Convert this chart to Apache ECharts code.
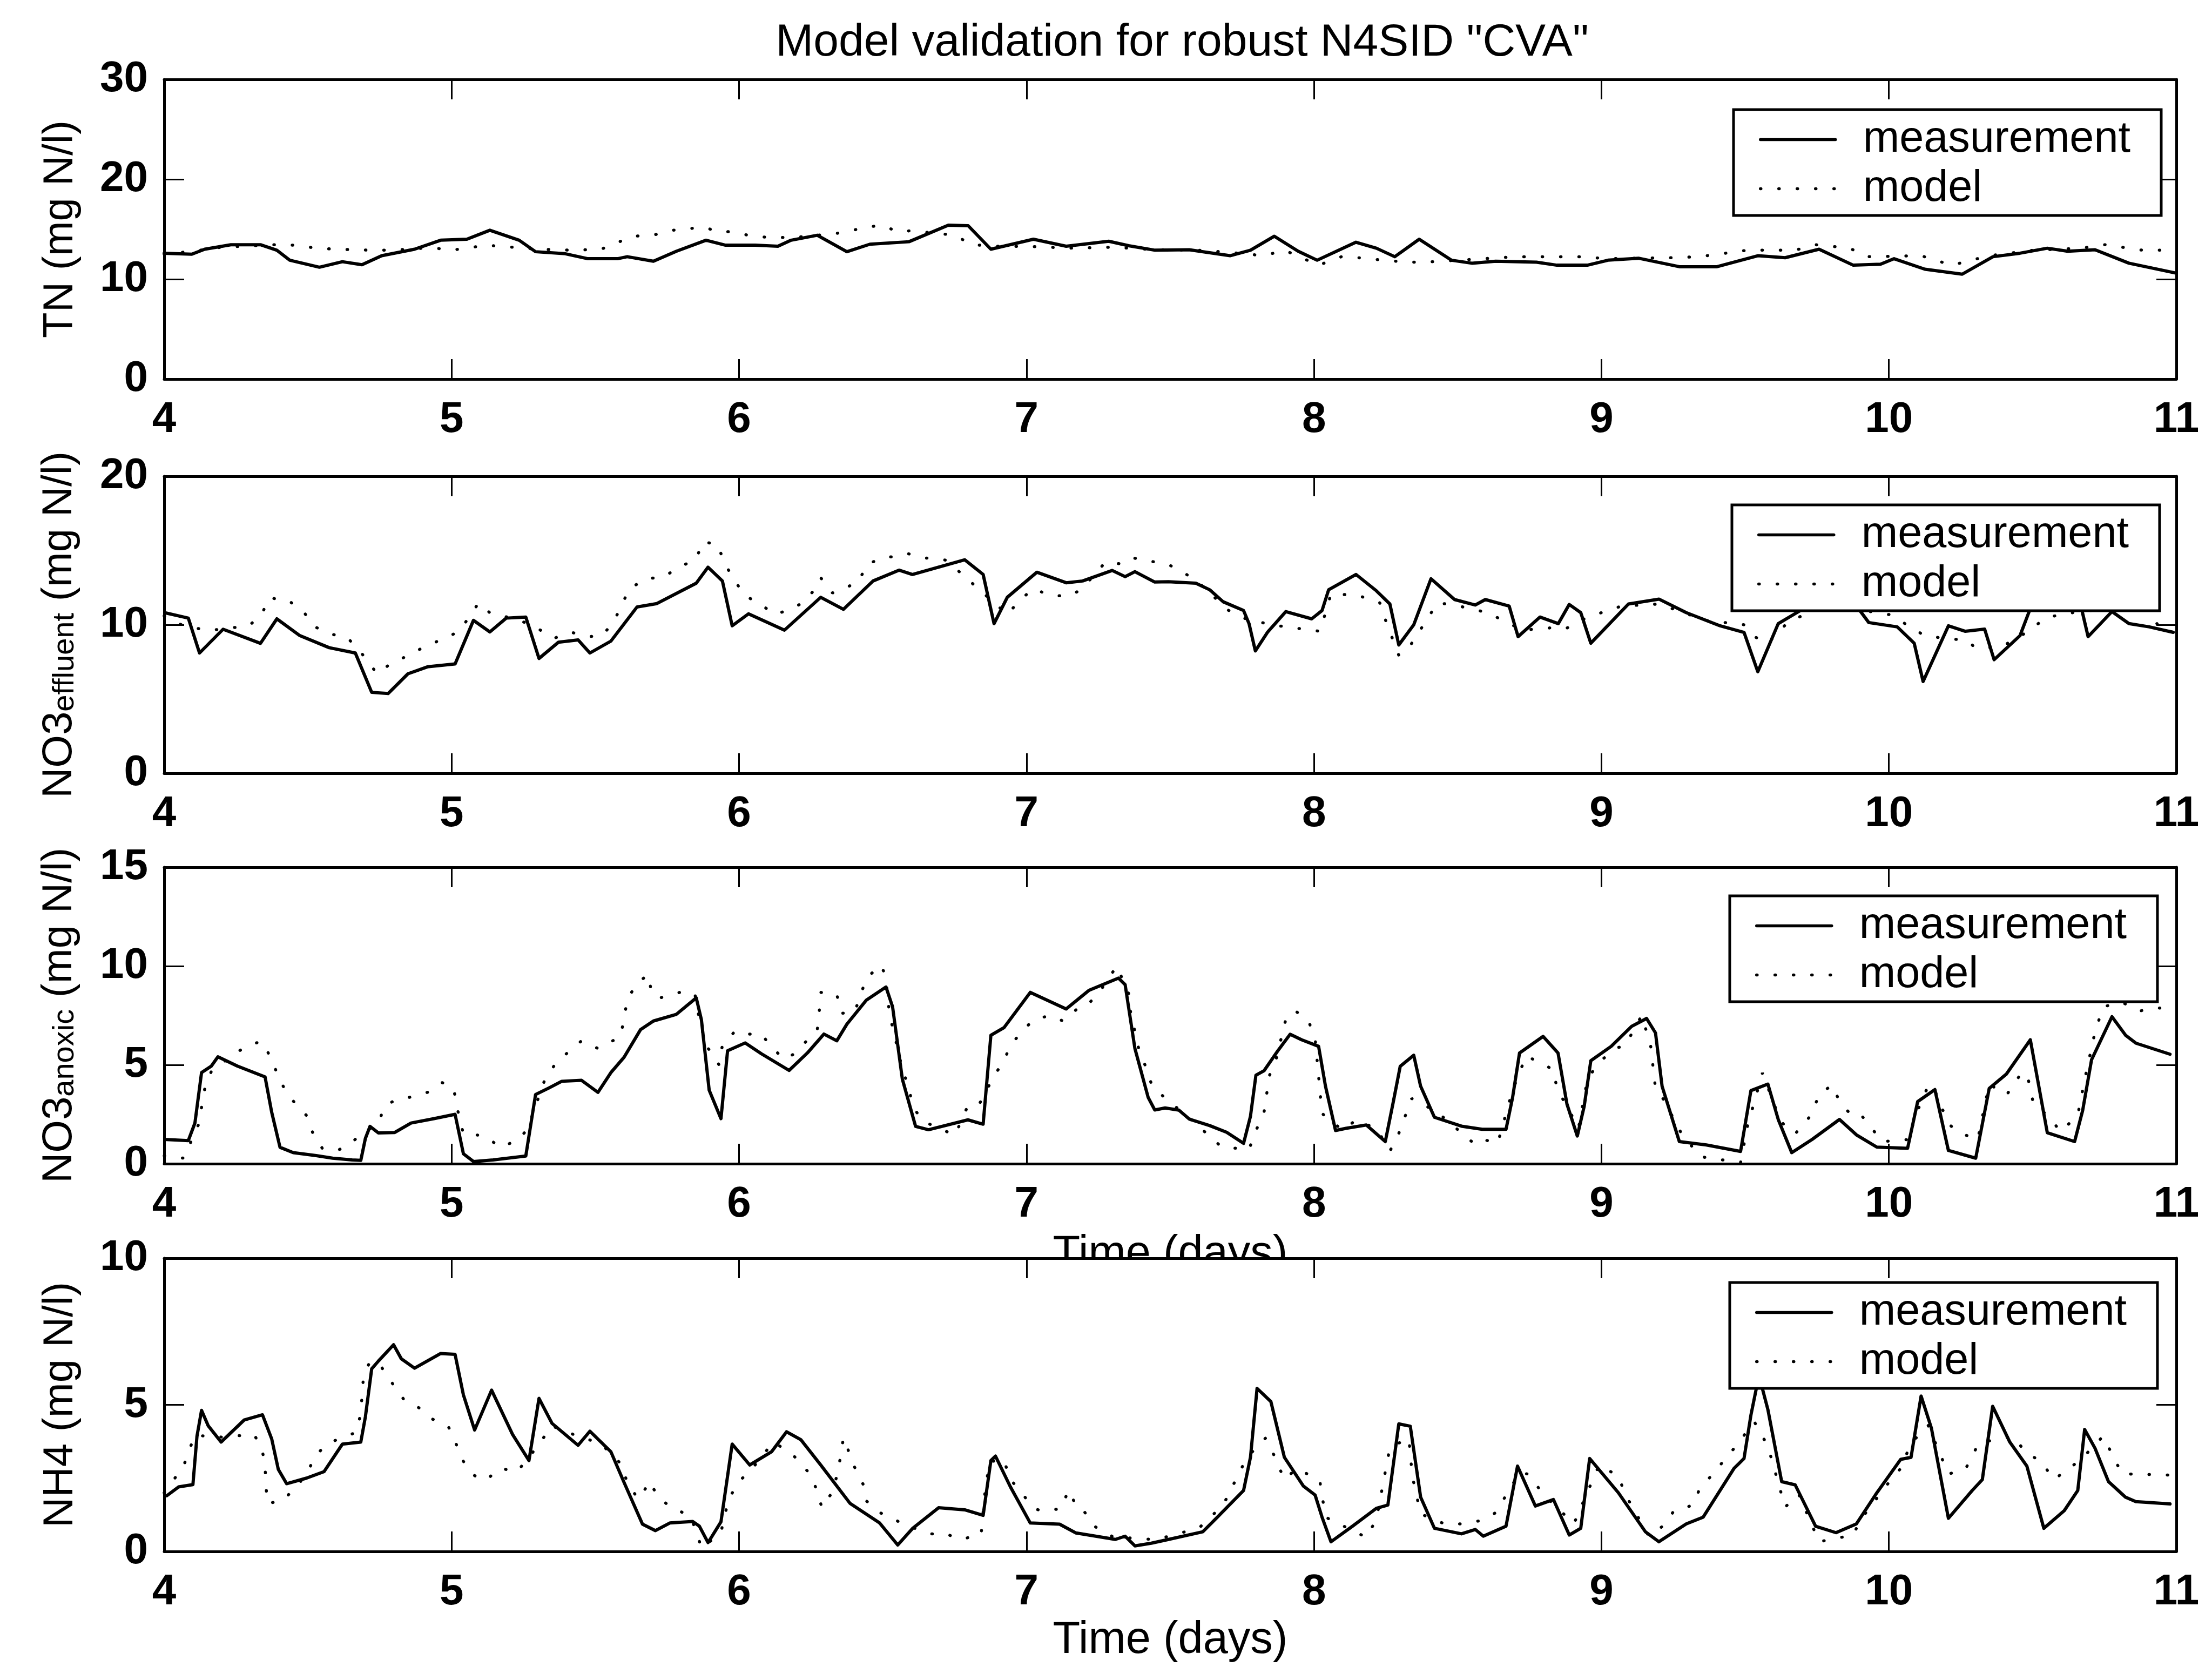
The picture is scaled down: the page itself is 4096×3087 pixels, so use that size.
<!DOCTYPE html>
<html>
<head>
<meta charset="utf-8">
<script src="https://cdn.jsdelivr.net/npm/echarts@6.0.0/dist/echarts.min.js"></script>
<style>
html, body { margin: 0; padding: 0; background: #fff; }
#chart_container { width: 4096px; height: 3087px; }
</style>
</head>
<body>
<div id="chart_container"></div>
<script>
// model validation plot, 4 stacked panels

// ---- data ----
const xTicks    = [4, 5, 6, 7, 8, 9, 10, 11];
const tnTicks   = [0, 10, 20, 30];
const no3eTicks = [0, 10, 20];
const no3aTicks = [0, 5, 10, 15];
const nh4Ticks  = [0, 5, 10];

const titleText   = 'Model validation for robust N4SID "CVA"';
const legendNames = ['measurement', 'model'];
const xName       = 'Time (days)';
const yNames = [
    'TN (mg N/l)',
    '{a|NO3}{b|effluent}{a| (mg N/l)}',
    '{a|NO3}{b|anoxic}{a| (mg N/l)}',
    'NH4 (mg N/l)'
];

// TN
const tnMeas = [[4.0,12.6],[4.096,12.5],[4.141,13.0],[4.232,13.45],[4.335,13.45],[4.392,12.9],[4.437,11.9],[4.54,11.2],[4.62,11.75],[4.688,11.45],[4.757,12.35],[4.871,13.0],[4.962,13.9],[5.053,14.0],[5.133,14.9],[5.235,13.9],[5.292,12.75],[5.395,12.55],[5.474,12.05],[5.577,12.05],[5.611,12.25],[5.702,11.8],[5.782,12.8],[5.885,13.9],[5.953,13.4],[6.056,13.4],[6.135,13.3],[6.181,13.9],[6.272,14.4],[6.375,12.75],[6.455,13.5],[6.591,13.75],[6.728,15.4],[6.797,15.35],[6.876,13.0],[7.024,14.0],[7.138,13.3],[7.286,13.8],[7.355,13.35],[7.447,12.9],[7.566,12.95],[7.708,12.35],[7.779,12.9],[7.862,14.3],[7.945,12.8],[8.011,11.9],[8.146,13.7],[8.217,13.1],[8.281,12.25],[8.366,14.0],[8.478,11.9],[8.549,11.6],[8.632,11.8],[8.774,11.7],[8.845,11.4],[8.951,11.4],[9.023,11.9],[9.129,12.1],[9.271,11.25],[9.402,11.25],[9.544,12.35],[9.639,12.15],[9.757,13.0],[9.876,11.4],[9.971,11.5],[10.018,12.05],[10.125,11.0],[10.255,10.5],[10.362,12.25],[10.456,12.6],[10.551,13.1],[10.622,12.8],[10.717,12.95],[10.835,11.6],[11.0,10.6]];
const tnModel = [[4.0,12.5],[4.1,12.8],[4.2,13.2],[4.38,13.45],[4.46,13.4],[4.53,13.1],[4.6,13.0],[4.66,12.95],[4.72,12.9],[4.79,12.9],[4.93,13.15],[5.0,12.9],[5.05,13.1],[5.12,13.4],[5.19,13.25],[5.3,13.0],[5.42,12.9],[5.52,13.0],[5.58,13.7],[5.63,14.3],[5.7,14.4],[5.77,14.9],[5.84,15.1],[5.88,15.2],[5.92,14.8],[5.97,14.75],[6.04,14.35],[6.11,14.15],[6.2,14.2],[6.36,14.65],[6.44,15.2],[6.5,15.4],[6.55,14.75],[6.6,14.85],[6.75,14.4],[6.81,13.45],[6.9,13.3],[7.06,13.25],[7.13,13.1],[7.3,13.2],[7.45,12.95],[7.6,12.9],[7.7,12.7],[7.826,12.35],[7.897,12.9],[8.016,11.4],[8.1,12.3],[8.205,12.0],[8.324,11.7],[8.383,11.7],[8.5,11.9],[8.703,12.25],[8.94,12.25],[9.011,12.05],[9.247,12.15],[9.342,12.25],[9.508,12.9],[9.674,12.9],[9.745,13.45],[9.864,13.1],[9.923,12.25],[10.112,12.35],[10.219,11.4],[10.349,12.35],[10.503,12.9],[10.669,13.1],[10.752,13.45],[10.882,12.9],[11.0,12.9]];

// NO3 effluent
const no3eMeas = [[4.005,10.8],[4.084,10.45],[4.123,8.1],[4.205,9.7],[4.335,8.75],[4.392,10.4],[4.472,9.27],[4.574,8.46],[4.665,8.1],[4.722,5.45],[4.779,5.37],[4.848,6.7],[4.916,7.17],[5.012,7.36],[5.076,10.3],[5.133,9.52],[5.19,10.45],[5.258,10.52],[5.304,7.73],[5.372,8.83],[5.44,8.98],[5.481,8.1],[5.554,8.9],[5.645,11.2],[5.714,11.43],[5.851,12.8],[5.892,13.88],[5.942,12.95],[5.976,9.93],[6.033,10.74],[6.158,9.64],[6.284,11.85],[6.363,11.04],[6.466,12.95],[6.557,13.68],[6.603,13.39],[6.785,14.38],[6.849,13.39],[6.887,10.08],[6.933,11.85],[7.036,13.54],[7.138,12.83],[7.195,12.95],[7.298,13.66],[7.343,13.24],[7.377,13.58],[7.446,12.88],[7.494,12.9],[7.589,12.8],[7.637,12.36],[7.684,11.55],[7.755,10.96],[7.774,10.08],[7.796,8.24],[7.838,9.49],[7.902,10.89],[7.992,10.4],[8.028,10.96],[8.051,12.36],[8.146,13.39],[8.217,12.29],[8.264,11.4],[8.295,8.64],[8.347,10.0],[8.407,13.1],[8.489,11.7],[8.561,11.33],[8.596,11.7],[8.679,11.26],[8.71,9.2],[8.786,10.52],[8.85,10.08],[8.888,11.37],[8.928,10.82],[8.963,8.76],[9.094,11.4],[9.2,11.73],[9.295,10.82],[9.413,9.93],[9.496,9.49],[9.544,6.84],[9.615,10.08],[9.686,10.89],[9.75,11.6],[9.83,11.4],[9.899,10.96],[9.93,10.15],[10.029,9.86],[10.088,8.76],[10.119,6.18],[10.207,9.93],[10.266,9.56],[10.333,9.71],[10.366,7.65],[10.456,9.27],[10.492,11.1],[10.56,11.9],[10.63,11.6],[10.67,11.1],[10.693,9.2],[10.776,10.89],[10.835,10.08],[10.906,9.86],[10.989,9.49]];
const no3eModel = [[4.0,10.6],[4.046,10.08],[4.15,9.6],[4.294,9.93],[4.34,10.67],[4.362,11.8],[4.426,11.7],[4.483,10.96],[4.517,9.93],[4.579,9.37],[4.636,9.17],[4.69,8.0],[4.741,6.7],[4.791,7.43],[4.852,7.95],[4.912,8.6],[4.969,9.02],[5.026,9.56],[5.064,10.6],[5.094,11.48],[5.137,10.74],[5.2,10.5],[5.28,10.0],[5.354,9.08],[5.417,9.49],[5.474,9.2],[5.525,9.27],[5.566,10.3],[5.593,11.37],[5.618,12.43],[5.68,13.13],[5.732,13.17],[5.794,13.9],[5.851,14.42],[5.873,15.6],[5.926,15.4],[5.949,14.13],[6.017,11.99],[6.067,11.48],[6.124,10.7],[6.181,11.04],[6.227,11.55],[6.268,12.5],[6.284,13.17],[6.325,12.14],[6.416,12.87],[6.443,14.05],[6.507,14.57],[6.534,14.57],[6.587,14.79],[6.648,14.5],[6.721,14.35],[6.853,12.07],[6.933,10.7],[6.979,11.7],[7.024,12.43],[7.081,11.99],[7.145,11.92],[7.19,12.36],[7.275,14.23],[7.336,14.08],[7.371,14.5],[7.434,14.27],[7.494,14.05],[7.546,13.54],[7.62,12.5],[7.696,11.04],[7.755,10.45],[7.85,10.0],[8.021,9.56],[8.059,12.07],[8.15,12.0],[8.229,11.48],[8.253,10.08],[8.295,7.95],[8.328,8.39],[8.43,11.48],[8.489,11.33],[8.603,10.82],[8.726,9.64],[8.821,9.79],[8.873,9.71],[8.95,10.5],[9.07,11.26],[9.2,11.4],[9.361,10.3],[9.496,10.0],[9.532,9.2],[9.579,8.76],[9.65,10.2],[9.78,11.3],[9.9,11.0],[10.006,10.67],[10.124,9.27],[10.207,9.05],[10.266,8.98],[10.302,8.46],[10.385,8.46],[10.456,9.2],[10.55,10.5],[10.681,10.96],[10.788,10.96],[10.894,11.04],[10.953,9.56],[11.0,9.5]];

// NO3 anoxic
const no3aMeas = [[4.009,1.22],[4.084,1.17],[4.107,2.06],[4.13,4.61],[4.164,4.94],[4.187,5.41],[4.255,4.94],[4.351,4.39],[4.374,2.61],[4.403,0.83],[4.449,0.56],[4.529,0.41],[4.586,0.28],[4.654,0.19],[4.684,0.17],[4.7,1.28],[4.716,1.89],[4.745,1.56],[4.802,1.58],[4.859,2.06],[4.939,2.28],[5.012,2.5],[5.041,0.5],[5.076,0.11],[5.144,0.19],[5.258,0.39],[5.292,3.5],[5.338,3.83],[5.383,4.17],[5.452,4.22],[5.509,3.61],[5.554,4.61],[5.6,5.39],[5.657,6.78],[5.702,7.22],[5.782,7.56],[5.851,8.39],[5.869,7.28],[5.896,3.72],[5.937,2.28],[5.96,5.72],[6.021,6.11],[6.078,5.56],[6.174,4.72],[6.238,5.61],[6.295,6.56],[6.34,6.22],[6.375,7.06],[6.443,8.28],[6.511,8.94],[6.534,7.94],[6.568,4.28],[6.614,1.89],[6.659,1.72],[6.796,2.22],[6.849,2.0],[6.876,6.5],[6.922,6.89],[7.013,8.67],[7.138,7.83],[7.218,8.78],[7.32,9.39],[7.343,9.06],[7.377,5.83],[7.423,3.36],[7.446,2.72],[7.482,2.82],[7.53,2.71],[7.566,2.26],[7.637,1.93],[7.696,1.59],[7.755,1.03],[7.779,2.4],[7.798,4.48],[7.826,4.7],[7.874,5.71],[7.917,6.55],[7.957,6.27],[8.016,5.94],[8.04,3.92],[8.075,1.68],[8.111,1.79],[8.182,1.96],[8.248,1.12],[8.276,3.14],[8.3,4.93],[8.347,5.49],[8.371,3.92],[8.419,2.35],[8.513,1.9],[8.585,1.74],[8.668,1.74],[8.691,3.36],[8.715,5.6],[8.797,6.44],[8.849,5.6],[8.88,3.02],[8.916,1.4],[8.94,2.91],[8.963,5.21],[9.034,5.94],[9.105,6.95],[9.157,7.35],[9.188,6.62],[9.211,3.92],[9.271,1.12],[9.365,0.95],[9.484,0.62],[9.52,3.7],[9.579,4.03],[9.615,2.24],[9.662,0.56],[9.733,1.23],[9.828,2.24],[9.887,1.46],[9.958,0.84],[10.065,0.78],[10.1,3.14],[10.16,3.75],[10.207,0.67],[10.302,0.28],[10.349,3.81],[10.409,4.54],[10.492,6.27],[10.551,1.57],[10.646,1.12],[10.674,2.69],[10.705,5.26],[10.776,7.44],[10.824,6.49],[10.859,6.1],[10.978,5.54]];
const no3aModel = [[4.0,0.4],[4.068,0.28],[4.12,2.0],[4.141,3.78],[4.164,4.67],[4.244,5.56],[4.301,6.06],[4.342,6.17],[4.36,5.67],[4.387,4.78],[4.415,3.89],[4.449,3.17],[4.495,2.44],[4.517,1.56],[4.55,0.78],[4.6,0.67],[4.63,0.83],[4.688,1.5],[4.745,2.06],[4.768,2.94],[4.805,3.22],[4.846,3.33],[4.916,3.61],[4.966,4.11],[5.007,3.83],[5.018,2.89],[5.041,1.5],[5.098,1.44],[5.125,1.33],[5.167,0.83],[5.228,1.17],[5.263,1.72],[5.326,4.33],[5.367,5.17],[5.417,5.78],[5.452,6.22],[5.509,5.83],[5.53,6.06],[5.554,6.17],[5.588,6.44],[5.6,7.39],[5.611,8.28],[5.645,9.17],[5.686,9.56],[5.695,8.61],[5.725,8.39],[5.794,8.67],[5.846,8.61],[5.857,7.67],[5.885,5.94],[5.914,5.5],[5.93,5.0],[5.942,6.0],[5.987,6.72],[6.021,6.56],[6.078,6.56],[6.113,5.89],[6.158,5.28],[6.192,5.56],[6.272,6.78],[6.279,7.72],[6.284,8.67],[6.34,8.56],[6.356,7.61],[6.402,7.67],[6.443,9.39],[6.493,10.06],[6.51,9.5],[6.523,7.56],[6.539,6.61],[6.568,4.78],[6.591,3.83],[6.603,2.94],[6.637,2.17],[6.751,1.44],[6.796,2.94],[6.835,3.0],[6.887,4.44],[6.922,5.22],[6.944,6.0],[6.99,6.78],[7.024,7.28],[7.081,7.5],[7.127,7.22],[7.172,7.78],[7.195,7.83],[7.245,8.5],[7.314,10.0],[7.355,8.61],[7.362,7.67],[7.389,5.89],[7.412,5.0],[7.434,4.06],[7.47,3.48],[7.589,2.02],[7.679,0.84],[7.774,0.73],[7.8,1.74],[7.826,2.58],[7.835,3.48],[7.844,4.42],[7.87,5.38],[7.902,7.31],[7.933,7.75],[7.98,7.26],[8.004,6.33],[8.016,4.42],[8.028,2.54],[8.099,1.7],[8.146,2.2],[8.217,1.79],[8.264,0.64],[8.29,1.34],[8.34,3.3],[8.427,2.63],[8.556,1.03],[8.58,1.26],[8.639,1.03],[8.691,3.72],[8.738,5.46],[8.833,4.76],[8.845,3.81],[8.892,2.58],[8.92,1.79],[8.951,4.25],[8.991,5.15],[9.058,5.88],[9.081,5.94],[9.14,7.5],[9.171,5.99],[9.188,3.81],[9.219,3.19],[9.271,1.7],[9.342,0.36],[9.484,0.06],[9.508,1.9],[9.56,4.59],[9.615,2.46],[9.639,1.85],[9.674,1.51],[9.733,2.52],[9.757,3.53],[9.804,3.98],[9.828,3.14],[9.876,2.35],[9.907,2.4],[9.977,1.12],[10.072,1.23],[10.088,2.29],[10.136,3.92],[10.152,3.98],[10.207,2.02],[10.243,1.57],[10.309,1.23],[10.349,4.03],[10.409,3.47],[10.456,4.48],[10.48,4.59],[10.503,3.02],[10.551,2.46],[10.598,1.62],[10.657,2.46],[10.681,4.25],[10.716,6.6],[10.745,7.94],[10.811,8.17],[10.87,7.72],[10.929,7.89],[11.0,7.8]];

// NH4
const nh4Meas = [[4.009,1.9],[4.05,2.2],[4.1,2.28],[4.114,3.92],[4.13,4.81],[4.153,4.29],[4.198,3.73],[4.278,4.48],[4.342,4.66],[4.374,3.84],[4.397,2.8],[4.426,2.31],[4.495,2.5],[4.556,2.72],[4.62,3.66],[4.684,3.73],[4.7,4.59],[4.722,6.23],[4.745,6.49],[4.798,7.05],[4.825,6.57],[4.871,6.25],[4.962,6.75],[5.012,6.72],[5.041,5.34],[5.08,4.14],[5.139,5.5],[5.212,3.99],[5.269,3.1],[5.304,5.22],[5.349,4.37],[5.44,3.62],[5.481,4.1],[5.554,3.4],[5.6,2.35],[5.664,0.93],[5.709,0.71],[5.759,0.97],[5.839,1.02],[5.862,0.86],[5.892,0.3],[5.937,1.01],[5.976,3.66],[6.037,2.95],[6.113,3.4],[6.165,4.08],[6.215,3.81],[6.284,2.95],[6.386,1.64],[6.489,0.97],[6.552,0.22],[6.603,0.78],[6.694,1.49],[6.785,1.42],[6.849,1.23],[6.876,3.1],[6.892,3.25],[6.944,2.2],[7.013,0.97],[7.115,0.93],[7.172,0.63],[7.309,0.41],[7.343,0.52],[7.377,0.19],[7.434,0.28],[7.494,0.41],[7.613,0.67],[7.66,1.13],[7.755,2.08],[7.779,3.21],[7.802,5.56],[7.85,5.11],[7.897,3.21],[7.963,2.23],[8.004,1.92],[8.028,1.17],[8.059,0.33],[8.134,0.86],[8.217,1.47],[8.257,1.58],[8.295,4.35],[8.335,4.27],[8.371,1.85],[8.419,0.79],[8.513,0.6],[8.561,0.75],[8.589,0.52],[8.668,0.86],[8.708,2.91],[8.77,1.55],[8.833,1.77],[8.888,0.56],[8.928,0.79],[8.959,3.17],[9.059,2.0],[9.153,0.67],[9.2,0.33],[9.295,0.94],[9.354,1.17],[9.461,2.83],[9.496,3.17],[9.52,4.65],[9.548,6.0],[9.579,4.84],[9.627,2.38],[9.674,2.27],[9.745,0.86],[9.816,0.64],[9.887,0.94],[9.958,2.0],[10.041,3.14],[10.077,3.21],[10.112,5.3],[10.148,4.2],[10.207,1.13],[10.29,2.08],[10.325,2.45],[10.361,4.95],[10.42,3.74],[10.48,2.91],[10.539,0.79],[10.61,1.39],[10.657,2.08],[10.681,4.16],[10.717,3.52],[10.764,2.38],[10.823,1.85],[10.859,1.7],[10.978,1.62]];
const nh4Model = [[4.0,2.0],[4.068,2.91],[4.08,3.28],[4.107,3.96],[4.2,3.9],[4.312,3.99],[4.34,3.54],[4.351,2.87],[4.358,1.64],[4.41,1.72],[4.456,2.16],[4.499,2.69],[4.524,3.25],[4.57,3.69],[4.67,4.07],[4.684,4.74],[4.693,5.93],[4.716,6.49],[4.757,6.27],[4.798,5.67],[4.836,5.15],[4.882,4.93],[4.934,4.51],[4.989,4.25],[5.012,3.77],[5.034,3.17],[5.071,2.65],[5.098,2.46],[5.121,2.44],[5.167,2.84],[5.228,2.72],[5.3,3.6],[5.349,4.29],[5.38,4.14],[5.45,3.9],[5.516,3.69],[5.56,3.3],[5.595,2.91],[5.611,2.31],[5.65,1.79],[5.691,2.39],[5.714,1.9],[5.764,1.49],[5.828,1.23],[5.851,0.71],[5.869,0.11],[5.937,0.63],[5.949,1.23],[5.969,1.87],[5.999,2.39],[6.037,2.72],[6.119,3.73],[6.174,3.4],[6.204,3.13],[6.249,2.61],[6.272,2.05],[6.288,1.49],[6.329,2.09],[6.352,3.17],[6.363,3.88],[6.379,3.47],[6.402,2.87],[6.432,2.28],[6.443,1.72],[6.493,1.31],[6.58,0.9],[6.666,0.6],[6.721,0.6],[6.767,0.41],[6.842,0.56],[6.853,1.83],[6.871,3.06],[6.922,3.13],[6.94,2.5],[6.985,1.98],[7.024,1.46],[7.058,1.38],[7.122,1.46],[7.145,2.09],[7.177,1.49],[7.195,1.46],[7.229,0.9],[7.3,0.5],[7.45,0.4],[7.6,0.8],[7.684,1.58],[7.767,3.21],[7.831,3.86],[7.86,3.3],[7.897,2.45],[7.94,2.83],[8.02,2.42],[8.04,1.17],[8.182,0.48],[8.217,1.09],[8.264,3.55],[8.33,3.86],[8.342,2.57],[8.371,1.28],[8.454,0.94],[8.513,0.94],[8.58,1.05],[8.632,1.32],[8.715,2.68],[8.745,2.64],[8.797,1.96],[8.857,1.39],[8.904,0.94],[8.992,2.95],[9.059,2.57],[9.082,1.96],[9.165,0.52],[9.224,0.94],[9.252,1.39],[9.319,1.58],[9.342,2.15],[9.385,2.61],[9.46,3.5],[9.532,4.42],[9.579,3.59],[9.639,1.51],[9.686,1.96],[9.757,0.33],[9.876,0.56],[9.899,1.05],[10.005,2.42],[10.048,2.91],[10.072,3.63],[10.136,4.31],[10.207,2.64],[10.266,2.8],[10.313,3.7],[10.432,3.93],[10.48,3.33],[10.527,3.1],[10.574,2.45],[10.669,3.14],[10.745,3.93],[10.811,2.64],[10.87,2.64],[10.941,2.61],[11.0,2.6]];

// ---- layout ----
const FONT = "'Liberation Sans', Arial, Helvetica, sans-serif";
const plotLeft  = 304;
const plotWidth = 3726;
const panelTop    = [147, 882, 1606, 2330];
const panelHeight = [555, 550, 549, 543];
const legendPos   = [[3210, 203], [3207, 935], [3203, 1659], [3203, 2375]];
const yTickSets = [tnTicks, no3eTicks, no3aTicks, nh4Ticks];
const measSets  = [tnMeas, no3eMeas, no3aMeas, nh4Meas];
const modelSets = [tnModel, no3eModel, no3aModel, nh4Model];

const axisLineStyle = { color: '#000', width: 5 };
const tickStyle = { show: true, inside: true, length: 37, lineStyle: { color: '#000', width: 3 } };
const tickLabel = { color: '#000', fontSize: 80, fontWeight: 'bold', fontFamily: FONT };

var chartDom = document.getElementById('chart_container');
var myChart = echarts.init(chartDom, null, { renderer: 'canvas', width: 4096, height: 3087 });

var grids = [], xAxes = [], yAxes = [], series = [], legends = [];

for (let i = 0; i < 4; i++) {
    grids.push({
        left: plotLeft, width: plotWidth,
        top: panelTop[i], height: panelHeight[i],
        containLabel: false, outerBoundsMode: 'none'
    });

    // bottom x axis with labels
    let xb = {
        gridIndex: i, type: 'value', position: 'bottom',
        min: xTicks[0], max: xTicks[xTicks.length - 1], interval: xTicks[1] - xTicks[0],
        axisLine: { show: true, onZero: false, lineStyle: axisLineStyle },
        axisTick: tickStyle,
        axisLabel: Object.assign({ show: true, margin: 36, showMinLabel: true, showMaxLabel: true }, tickLabel),
        splitLine: { show: false },
        nameMoveOverlap: false
    };
    if (i >= 2) {
        xb.name = xName;
        xb.nameLocation = 'middle';
        xb.nameGap = (i == 2) ? 127 : 124;
        xb.nameTextStyle = { color: '#000', fontSize: 83, fontFamily: FONT, lineHeight: 83 };
    }
    xAxes.push(xb);
    // top x axis: ticks only
    xAxes.push({
        gridIndex: i, type: 'value', position: 'top',
        min: xTicks[0], max: xTicks[xTicks.length - 1], interval: xTicks[1] - xTicks[0],
        axisLine: { show: true, onZero: false, lineStyle: axisLineStyle },
        axisTick: tickStyle,
        axisLabel: { show: false },
        splitLine: { show: false }
    });

    let yt = yTickSets[i];
    let isRich = yNames[i].indexOf('{a|') === 0;
    yAxes.push({
        gridIndex: i, type: 'value', position: 'left',
        min: yt[0], max: yt[yt.length - 1], interval: yt[1] - yt[0],
        axisLine: { show: true, onZero: false, lineStyle: axisLineStyle },
        axisTick: tickStyle,
        axisLabel: Object.assign({ show: true, margin: 30, showMinLabel: true, showMaxLabel: true }, tickLabel),
        splitLine: { show: false },
        name: yNames[i],
        nameLocation: 'middle',
        nameRotate: 90,
        nameGap: isRich ? 155 : 153,
        nameMoveOverlap: false,
        nameTextStyle: {
            color: '#000', fontSize: 78, fontFamily: FONT, lineHeight: 78,
            rich: {
                a: { fontSize: 78, fontFamily: FONT, color: '#000', lineHeight: 78, verticalAlign: 'top' },
                b: { fontSize: 56, fontFamily: FONT, color: '#000', lineHeight: 56, verticalAlign: 'bottom', padding: [59, 0, 0, 0] }
            }
        }
    });
    yAxes.push({
        gridIndex: i, type: 'value', position: 'right',
        min: yt[0], max: yt[yt.length - 1], interval: yt[1] - yt[0],
        axisLine: { show: true, onZero: false, lineStyle: axisLineStyle },
        axisTick: tickStyle,
        axisLabel: { show: false },
        splitLine: { show: false }
    });

    series.push({
        name: legendNames[0], type: 'line',
        xAxisIndex: 2 * i, yAxisIndex: 2 * i,
        data: measSets[i],
        symbol: 'none', showSymbol: false, smooth: false,
        lineStyle: { color: '#000', width: 6, join: 'round', cap: 'round' },
        itemStyle: { color: '#000' },
        silent: true
    });
    series.push({
        name: legendNames[1], type: 'line',
        xAxisIndex: 2 * i, yAxisIndex: 2 * i,
        data: modelSets[i],
        symbol: 'none', showSymbol: false, smooth: false,
        lineStyle: { color: '#000', width: 5.5, type: [1, 33], cap: 'round' },
        itemStyle: { color: '#000' },
        silent: true
    });

    legends.push({
        data: legendNames,
        orient: 'vertical',
        left: legendPos[i][0], top: legendPos[i][1],
        padding: [15, 57, 9, 47],
        itemGap: 10,
        itemWidth: 139, itemHeight: 20,
        backgroundColor: '#fff',
        borderColor: '#000', borderWidth: 5, borderRadius: 0,
        selectedMode: false,
        lineStyle: { width: 5.5 },
        itemStyle: { opacity: 0 },
        textStyle: { color: '#000', fontSize: 81, fontFamily: FONT, lineHeight: 80, padding: [0, 0, 0, 46] }
    });
}

var option = {
    animation: false,
    backgroundColor: '#fff',
    title: {
        text: titleText,
        left: 2189, top: 38,
        textAlign: 'center', textVerticalAlign: 'top',
        padding: 0,
        textStyle: { color: '#000', fontSize: 84, fontWeight: 'normal', fontFamily: FONT }
    },
    legend: legends,
    grid: grids,
    xAxis: xAxes,
    yAxis: yAxes,
    series: series,
    // panel 4 hides the lower half of the panel 3 x label
    graphic: [{
        type: 'rect', z: 100, silent: true,
        shape: { x: 1930, y: 2333, width: 480, height: 40 },
        style: { fill: '#fff' }
    }]
};

myChart.setOption(option);
</script>
</body>
</html>
